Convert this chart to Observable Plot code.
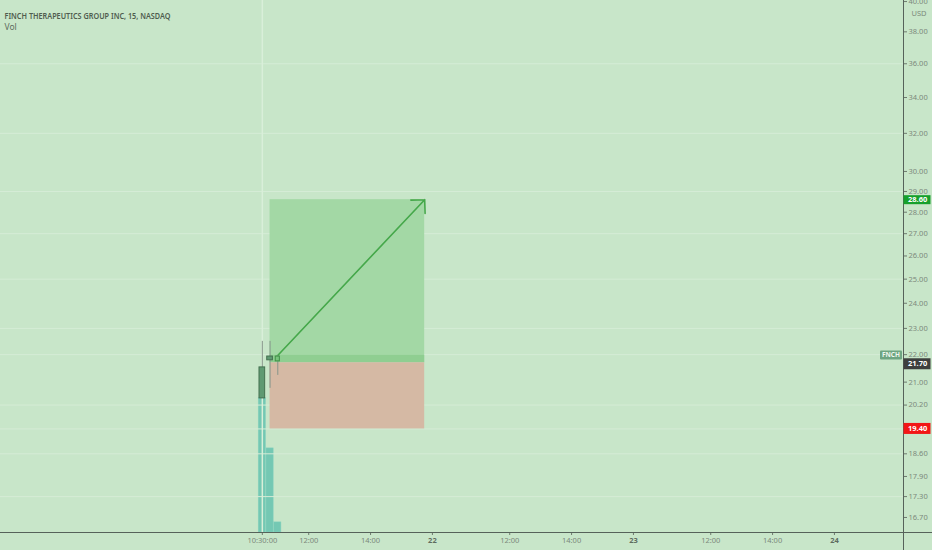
<!DOCTYPE html>
<html><head><meta charset="utf-8">
<script src="https://cdn.jsdelivr.net/npm/d3@7"></script>
<script src="https://cdn.jsdelivr.net/npm/@observablehq/plot@0.6"></script>
<style>
body{margin:0;background:#c8e6c9;}
#wrap{position:relative;width:932px;height:550px;background:#c8e6c9;overflow:hidden;font-family:"Liberation Sans",Arial,sans-serif;}
#wrap svg{position:absolute;left:0;top:0;background:transparent;}
</style></head><body><div id="wrap"></div>
<script>
// ---- data (time = minutes of trading since 9:30 on the 21st; 390 per session) ----
const candleTimes = [60, 75, 90];
const candleOpen  = [20.43, 21.93, 21.93];
const candleHigh  = [22.50, 22.50, 21.97];
const candleLow   = [20.43, 20.78, 21.24];
const candleClose = [21.53, 21.79, 21.75];
const volumes     = [2650000, 1660000, 200000];

const priceTicks = [40, 38, 36, 34, 32, 30, 29, 28, 27, 26, 25, 24, 23, 22, 21, 20.2, 18.6, 17.9, 17.3, 16.7];
const gridPrices = [36, 32, 29, 27, 25, 23, 22, 20.2, 19.4, 18.6, 17.3];
const timeTicks  = [60, 150, 270, 540, 660, 930, 1050];
const timeLabels = ["10:30:00", "12:00", "14:00", "12:00", "14:00", "12:00", "14:00"];
const dayTicks   = [390, 780, 1170];
const dayLabels  = ["22", "23", "24"];

const positionStart = 75, positionEnd = 375;
const targetPrice = 28.60, entryPrice = 21.70, entryTop = 21.97, stopPrice = 19.40;
const arrowStartT = 88, arrowStartPrice = 21.93;
const lastPrice = 21.70, symbolPrice = 21.97;

const xDomain = [-448, 1304];
const yDomain = [16.28, 40.07];
const volDomain = [0, 10500000];

const title = "FINCH THERAPEUTICS GROUP INC, 15, NASDAQ";
const paneLabel = "Vol";
const currency = "USD";
const symbol = "FNCH";

// ---- tables ----
const candles = candleTimes.map((t, i) => ({t, open: candleOpen[i], high: candleHigh[i], low: candleLow[i], close: candleClose[i], v: volumes[i]}));
const pos = [{start: positionStart, end: positionEnd, target: targetPrice, entry: entryPrice, entryTop, stop: stopPrice}];

const W = 932, H = 550, MR = 29, MB = 18;
const wrap = document.getElementById("wrap");

// volume pane (own scale)
const vol = Plot.plot({
  width: W, height: H, marginLeft: 0, marginRight: MR, marginTop: 0, marginBottom: MB,
  x: {domain: xDomain, axis: null},
  y: {domain: volDomain, axis: null},
  style: {background: "transparent"},
  marks: [
    Plot.rect(candles, {x1: d => d.t - 7, x2: d => d.t + 7, y1: 0, y2: "v", fill: "#74c8b3", stroke: "#86d2be", strokeWidth: 0.5})
  ]
});
wrap.appendChild(vol);

const fmtTime = d => timeLabels[timeTicks.indexOf(d)];
const fmtDay = d => dayLabels[dayTicks.indexOf(d)];

const plot = Plot.plot({
  width: W, height: H, marginLeft: 0, marginRight: MR, marginTop: 0, marginBottom: MB,
  x: {domain: xDomain, axis: null},
  y: {type: "log", domain: yDomain, axis: null},
  style: {background: "transparent", overflow: "visible"},
  marks: [
    Plot.ruleY(gridPrices, {stroke: "#d5ecd6", strokeWidth: 1}),
    Plot.ruleX([candleTimes[0]], {stroke: "#d9efd9", strokeWidth: 1.5}),
    // long position tool
    Plot.rect(pos, {x1: "start", x2: "end", y1: "entry", y2: "target", fill: "#a3d8a5"}),
    Plot.rect(pos, {x1: "start", x2: "end", y1: "entry", y2: "entryTop", fill: "#8fce91"}),
    Plot.rect(pos, {x1: "start", x2: "end", y1: "stop", y2: "entry", fill: "#d5b9a4"}),
    Plot.arrow([{x1: arrowStartT, y1: arrowStartPrice, x2: positionEnd, y2: targetPrice}],
      {x1: "x1", y1: "y1", x2: "x2", y2: "y2", stroke: "#45a84a", strokeWidth: 1.6, headAngle: 90, headLength: 13}),
    // candles
    Plot.ruleX(candles, {x: "t", y1: "low", y2: "high", stroke: "#86968a", strokeWidth: 1}),
    Plot.rect(candles.slice(0, 2), {x1: d => d.t - 5.5, x2: d => d.t + 5.5, y1: "open", y2: "close", fill: "#5f9a72", stroke: "#44704f", strokeWidth: 1}),
    Plot.rect(candles.slice(2), {x1: d => d.t - 4, x2: d => d.t + 4, y1: "open", y2: "close", fill: "#78c47c", stroke: "#3f8f45", strokeWidth: 1}),
    // axes
    Plot.axisX(timeTicks, {anchor: "bottom", tickSize: 3, tickPadding: 2, tickFormat: fmtTime, fontSize: 7.5, fill: "#7c897c", stroke: "#6d7a6d"}),
    Plot.axisX(dayTicks, {anchor: "bottom", tickSize: 3, tickPadding: 2, tickFormat: fmtDay, fontSize: 7.5, fontWeight: "bold", fill: "#5f6c5f", stroke: "#6d7a6d"}),
    Plot.axisY(priceTicks, {anchor: "right", tickSize: 3, tickPadding: 2, tickFormat: d => d.toFixed(2), fontSize: 7.5, fill: "#7c897c", stroke: "#6d7a6d"}),
    Plot.text([currency], {frameAnchor: "top-right", dx: 8, dy: 10, text: d => d, textAnchor: "start", fontSize: 7.5, fill: "#7c897c"}),
    Plot.text([title], {frameAnchor: "top-left", dx: 4, dy: 12, text: d => d, textAnchor: "start", fontSize: 8.5, fontWeight: 600, fill: "#4f5d4f", className: "ttl"}),
    Plot.text([paneLabel], {frameAnchor: "top-left", dx: 4, dy: 23.5, text: d => d, textAnchor: "start", fontSize: 8.5, fill: "#5e6c5e"})
  ]
});
wrap.appendChild(plot);

const svg = d3.select(plot);
svg.selectAll(".ttl text").attr("textLength", 166).attr("lengthAdjust", "spacingAndGlyphs");

const xs = plot.scale("x"), ys = plot.scale("y");
const xr = xs.range, yr = ys.range;
const right = xr[1], bottom = yr[0];

// axis lines
svg.append("line").attr("x1", right + 0.5).attr("x2", right + 0.5).attr("y1", 0).attr("y2", H).attr("stroke", "#56625a").attr("stroke-width", 1);
svg.append("line").attr("x1", 0).attr("x2", W).attr("y1", bottom + 0.5).attr("y2", bottom + 0.5).attr("stroke", "#56625a").attr("stroke-width", 1);

// price labels on the axis
const labels = [
  {price: targetPrice, text: targetPrice.toFixed(2), fill: "#16a02c", dy: 0.5, h: 9},
  {price: lastPrice, text: lastPrice.toFixed(2), fill: "#3e3f3e", dy: 1.5, h: 11},
  {price: stopPrice, text: stopPrice.toFixed(2), fill: "#f21616", dy: 0, h: 11}
];
for (const l of labels) {
  const y = ys.apply(l.price) + l.dy;
  svg.append("rect").attr("x", right + 0.5).attr("y", y - l.h / 2).attr("width", 27).attr("height", l.h).attr("fill", l.fill);
  svg.append("text").attr("x", right + 5).attr("y", y).attr("dy", "0.35em").attr("text-anchor", "start")
    .attr("font-size", 7.5).attr("font-weight", "bold").attr("fill", "#ffffff").text(l.text);
}
{
  const y = ys.apply(symbolPrice);
  svg.append("rect").attr("x", right - 23).attr("y", y - 4.5).attr("width", 22).attr("height", 9).attr("rx", 1).attr("fill", "#6ea582");
  svg.append("text").attr("x", right - 12).attr("y", y).attr("dy", "0.35em").attr("text-anchor", "middle").attr("font-size", 6.5).attr("font-weight", "bold")
    .attr("fill", "#eef7ee").text(symbol);
}
</script></body></html>
